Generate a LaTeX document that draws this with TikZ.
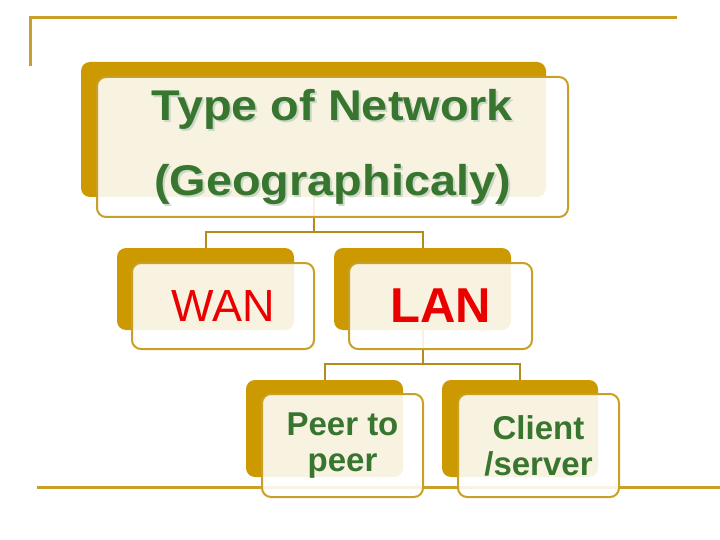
\documentclass[tikz,border=0pt]{standalone}
\usepackage{fontspec}
\setmainfont{Liberation Sans}
\usepackage{tikz}
\usetikzlibrary{backgrounds, positioning}
\definecolor{gold}{RGB}{204,153,0}
\definecolor{goldline}{RGB}{200,160,40}
\definecolor{linkgold}{RGB}{180,140,30}
\definecolor{netgreen}{RGB}{56,118,48}
\definecolor{netred}{RGB}{235,0,0}

\begin{document}
\begin{tikzpicture}[x=1pt, y=-1pt,
  backbox/.style={fill=gold, rounded corners=9pt, inner sep=0pt},
  frontbox/.style={draw=goldline, line width=2pt, fill=white, fill opacity=0.88,
                   draw opacity=1, text opacity=1, rounded corners=9pt,
                   inner sep=0pt, align=center},
  link/.style={draw=linkgold, line width=2pt},
  frameline/.style={draw=goldline, line width=3pt},
  toptxt/.style={text=netgreen, align=center, xscale=1.09, transform shape,
                 font=\bfseries\fontsize{43}{75}\selectfont},
  shadetxt/.style={toptxt, text=black!15!netgreen!25}]
\useasboundingbox (0,0) rectangle (720,540);
%
% back boxes
\node[backbox, minimum width=465pt, minimum height=135pt] (topbk) at (313.5,129.5) {};
\node[backbox, minimum width=177pt, minimum height=82pt] (wanbk) at (205.5,289) {};
\node[backbox, minimum width=177pt, minimum height=82pt] (lanbk) at (422.5,289) {};
\node[backbox, minimum width=157pt, minimum height=97pt] (peerbk) at (324.5,428.5) {};
\node[backbox, minimum width=156pt, minimum height=97pt] (clientbk) at (520,428.5) {};
%
% frame and connectors
\begin{scope}[on background layer]
\draw[frameline] (30,66) -- (30,18) -- (677,18);
\draw[frameline] (37,487) -- (720,487);
\draw[link] (topbk.south) -- ++(0,35) -| (wanbk.north);
\draw[link] (topbk.south) ++(0,35) -| (lanbk.north);
\draw[link] (lanbk.south) -- ++(0,34) -| (peerbk.north);
\draw[link] (lanbk.south) ++(0,34) -| (clientbk.north);
\end{scope}
%
% front boxes
\node[frontbox, minimum width=471pt, minimum height=140pt] (top) at (332.5,147) {};
\node[shadetxt] at ([shift={(2,2)}]top.center) {Type of Network\\(Geographicaly)};
\node[toptxt] (toptitle) at (top.center) {Type of Network\\(Geographicaly)};
\node[frontbox, minimum width=182pt, minimum height=86pt, text=netred,
      font=\fontsize{45}{50}\selectfont] (wan) at (223,306) {WAN};
\node[frontbox, minimum width=183pt, minimum height=86pt, text=netred,
      font=\bfseries\fontsize{49}{54}\selectfont] (lan) at (440.5,306) {LAN};
\node[frontbox, minimum width=161pt, minimum height=103pt, text=netgreen,
      font=\bfseries\fontsize{33}{36}\selectfont] (peer) at (342.5,445.5) {Peer to\\peer};
\node[frontbox, minimum width=161pt, minimum height=103pt, text=netgreen,
      font=\bfseries\fontsize{33}{36}\selectfont] (client) at (538.5,445.5) {Client\\/server};
%
\end{tikzpicture}
\end{document}
